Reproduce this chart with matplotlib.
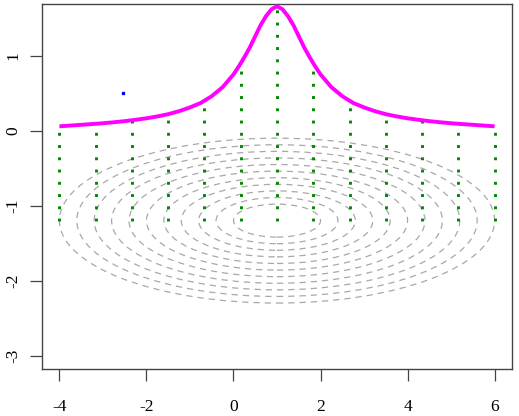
import numpy as np
import matplotlib
matplotlib.use("Agg")
import matplotlib.pyplot as plt
from matplotlib.patches import Ellipse

plt.rcParams['font.family'] = ['Liberation Serif', 'DejaVu Serif']
plt.rcParams['axes.unicode_minus'] = False

# density-like curve
x_curve = [-4, -3.75, -3.5, -3.25, -3, -2.75, -2.5, -2.25, -2, -1.75, -1.5, -1.25,
           -1, -0.75, -0.5, -0.25, 0, 0.125, 0.25, 0.375, 0.5, 0.625, 0.75, 0.875,
           1, 1.125, 1.25, 1.375, 1.5, 1.625, 1.75, 1.875, 2, 2.25, 2.5, 2.75,
           3, 3.25, 3.5, 3.75, 4, 4.25, 4.5, 4.75, 5, 5.25, 5.5, 5.75, 6]
y_curve = [0.058, 0.068, 0.078, 0.088, 0.099, 0.112, 0.127, 0.145, 0.165, 0.19, 0.22, 0.26,
           0.31, 0.37, 0.46, 0.58, 0.75, 0.86, 0.98, 1.11, 1.26, 1.41, 1.53, 1.62,
           1.66, 1.62, 1.53, 1.41, 1.26, 1.11, 0.98, 0.86, 0.75, 0.58, 0.46, 0.37,
           0.31, 0.26, 0.22, 0.19, 0.165, 0.145, 0.127, 0.112, 0.099, 0.088, 0.078, 0.068, 0.058]

# vertical dotted stems
x_stem = [-4, -3.17, -2.33, -1.5, -0.67, 0.17, 1, 1.83, 2.67, 3.5, 4.33, 5.17, 6]
y_stem = [0.058, 0.092, 0.14, 0.22, 0.40, 0.91, 1.66, 0.91, 0.40, 0.22, 0.14, 0.092, 0.058]
stem_base = -1.2

# concentric dashed ellipses
ell_center = (1.0, -1.2)
semi_x = [1.0, 1.4, 1.8, 2.2, 2.6, 3.0, 3.4, 3.8, 4.2, 4.6, 5.0]
semi_y = [0.22, 0.308, 0.396, 0.484, 0.572, 0.66, 0.748, 0.836, 0.924, 1.012, 1.10]

# single point
pt_x = [-2.54]
pt_y = [0.5]

W, H = 519, 416
fig = plt.figure(figsize=(W / 100, H / 100), dpi=100)
ax = fig.add_axes([42 / W, (H - 369) / H, 470 / W, 365 / H])

for a, b in zip(semi_x, semi_y):
    e = Ellipse(ell_center, 2 * a, 2 * b, fill=False, edgecolor='#a8a8a8',
                linewidth=0.9, linestyle=(0, (5, 4)), zorder=1)
    ax.add_patch(e)

ax.vlines(x_stem, stem_base, y_stem, colors='#008800', linewidth=2.1,
          linestyles=(0, (1.0, 3.2)), zorder=2)

ax.plot(x_curve, y_curve, color='#ff00ff', linewidth=2.8, zorder=3,
        solid_capstyle='butt')

ax.plot(pt_x, pt_y, 's', color='#0000ff', markersize=1.6, zorder=4)

ax.set_xlim(-4.4, 6.4)
ax.set_ylim(-3.18, 1.69)
ax.set_xticks([-4, -2, 0, 2, 4, 6])
ax.set_yticks([-3, -2, -1, 0, 1])

for s in ax.spines.values():
    s.set_color('#444444')
    s.set_linewidth(1.0)

ax.tick_params(direction='out', length=8.6, width=0.9, color='#444444',
               labelsize=12.5)
ax.tick_params(axis='x', pad=13)
ax.tick_params(axis='y', pad=6)
for lab in ax.get_yticklabels():
    lab.set_rotation(90)
    lab.set_va('center')

fig.savefig('out.png', dpi=100)
